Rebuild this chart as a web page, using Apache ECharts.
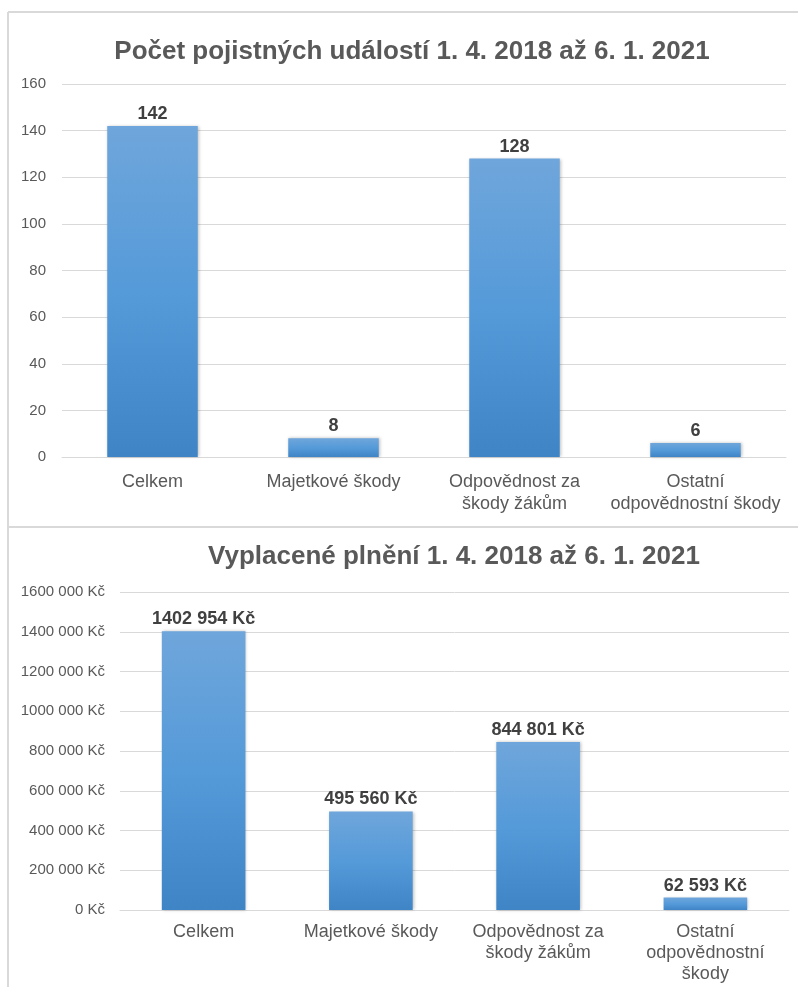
<!DOCTYPE html>
<html><head><meta charset="utf-8">
<script src="https://cdn.jsdelivr.net/npm/echarts@6/dist/echarts.min.js"></script>
<style>html,body{margin:0;padding:0;background:#fff}#c{width:798px;height:987px}</style>
</head><body><div id="c"></div>
<script>
const title1 = 'Počet pojistných událostí 1. 4. 2018 až 6. 1. 2021';
const title2 = 'Vyplacené plnění 1. 4. 2018 až 6. 1. 2021';
const categories1 = ['Celkem', 'Majetkové škody', 'Odpovědnost za\nškody žákům', 'Ostatní\nodpovědnostní škody'];
const categories2 = ['Celkem', 'Majetkové škody', 'Odpovědnost za\nškody žákům', 'Ostatní\nodpovědnostní\nškody'];
const counts = [142, 8, 128, 6];
const payouts = [1402954, 495560, 844801, 62593];
const countTicks = [0, 20, 40, 60, 80, 100, 120, 140, 160];
const payoutTicks = [0, 200000, 400000, 600000, 800000, 1000000, 1200000, 1400000, 1600000];

function kc(v) {
  v = Math.round(v);
  if (v < 1000) return v + ' Kč';
  const th = Math.floor(v / 1000), r = v % 1000;
  return th + ' ' + String(r).padStart(3, '0') + ' Kč';
}
const txt = '#595959';
const grad = new echarts.graphic.LinearGradient(0, 0, 0, 1, [
  {offset: 0, color: '#6fa6db'}, {offset: 0.5, color: '#559ad9'}, {offset: 1, color: '#3f85c6'}]);
const barStyle = {color: grad, shadowColor: 'rgba(0,0,0,0.25)', shadowBlur: 3, shadowOffsetX: 1, shadowOffsetY: 0};
const font = 'Liberation Sans, Arial, sans-serif';

const chart = echarts.init(document.getElementById('c'), null, {renderer: 'canvas'});
chart.setOption({
  animation: false,
  textStyle: {fontFamily: font},
  title: [
    {text: title1, left: 407, top: 34, textAlign: 'center',
     textStyle: {fontSize: 26, fontWeight: 'bold', color: txt, fontFamily: font}},
    {text: title2, left: 449, top: 539, textAlign: 'center',
     textStyle: {fontSize: 26, fontWeight: 'bold', color: txt, fontFamily: font}}
  ],
  graphic: [
    {type: 'line', shape: {x1: 8, y1: 12, x2: 798, y2: 12}, style: {stroke: '#d9d9d9', lineWidth: 2}},
    {type: 'line', shape: {x1: 8, y1: 12, x2: 8, y2: 987}, style: {stroke: '#d9d9d9', lineWidth: 2}},
    {type: 'line', shape: {x1: 8, y1: 527, x2: 798, y2: 527}, style: {stroke: '#d9d9d9', lineWidth: 2}}
  ],
  grid: [
    {left: 62, right: 12, top: 84, bottom: 530, containLabel: false},
    {left: 120, right: 9, top: 592, bottom: 77, containLabel: false}
  ],
  xAxis: [
    {type: 'category', gridIndex: 0, data: categories1,
     axisTick: {show: false}, axisLine: {lineStyle: {color: '#d9d9d9', width: 1}},
     axisLabel: {color: txt, fontSize: 18, lineHeight: 22, margin: 14, interval: 0, fontFamily: font}},
    {type: 'category', gridIndex: 1, data: categories2,
     axisTick: {show: false}, axisLine: {lineStyle: {color: '#d9d9d9', width: 1}},
     axisLabel: {color: txt, fontSize: 18, lineHeight: 21, margin: 12, interval: 0, fontFamily: font}}
  ],
  yAxis: [
    {type: 'value', gridIndex: 0, min: countTicks[0], max: countTicks[countTicks.length - 1], interval: countTicks[1] - countTicks[0],
     axisLine: {show: false}, axisTick: {show: false},
     splitLine: {lineStyle: {color: '#d9d9d9', width: 1}},
     axisLabel: {color: txt, fontSize: 15, margin: 16, fontFamily: font}},
    {type: 'value', gridIndex: 1, min: payoutTicks[0], max: payoutTicks[payoutTicks.length - 1], interval: payoutTicks[1] - payoutTicks[0],
     axisLine: {show: false}, axisTick: {show: false},
     splitLine: {lineStyle: {color: '#d9d9d9', width: 1}},
     axisLabel: {color: txt, fontSize: 15, margin: 15, fontFamily: font, formatter: kc}}
  ],
  series: [
    {type: 'bar', xAxisIndex: 0, yAxisIndex: 0, data: counts, barWidth: '50%', itemStyle: barStyle,
     label: {show: true, position: 'top', distance: 3, color: '#404040', fontSize: 18, fontWeight: 'bold', fontFamily: font}},
    {type: 'bar', xAxisIndex: 1, yAxisIndex: 1, data: payouts, barWidth: '50%', itemStyle: barStyle,
     label: {show: true, position: 'top', distance: 3, color: '#404040', fontSize: 18, fontWeight: 'bold', fontFamily: font, formatter: p => kc(p.value)}}
  ]
});
</script></body></html>
